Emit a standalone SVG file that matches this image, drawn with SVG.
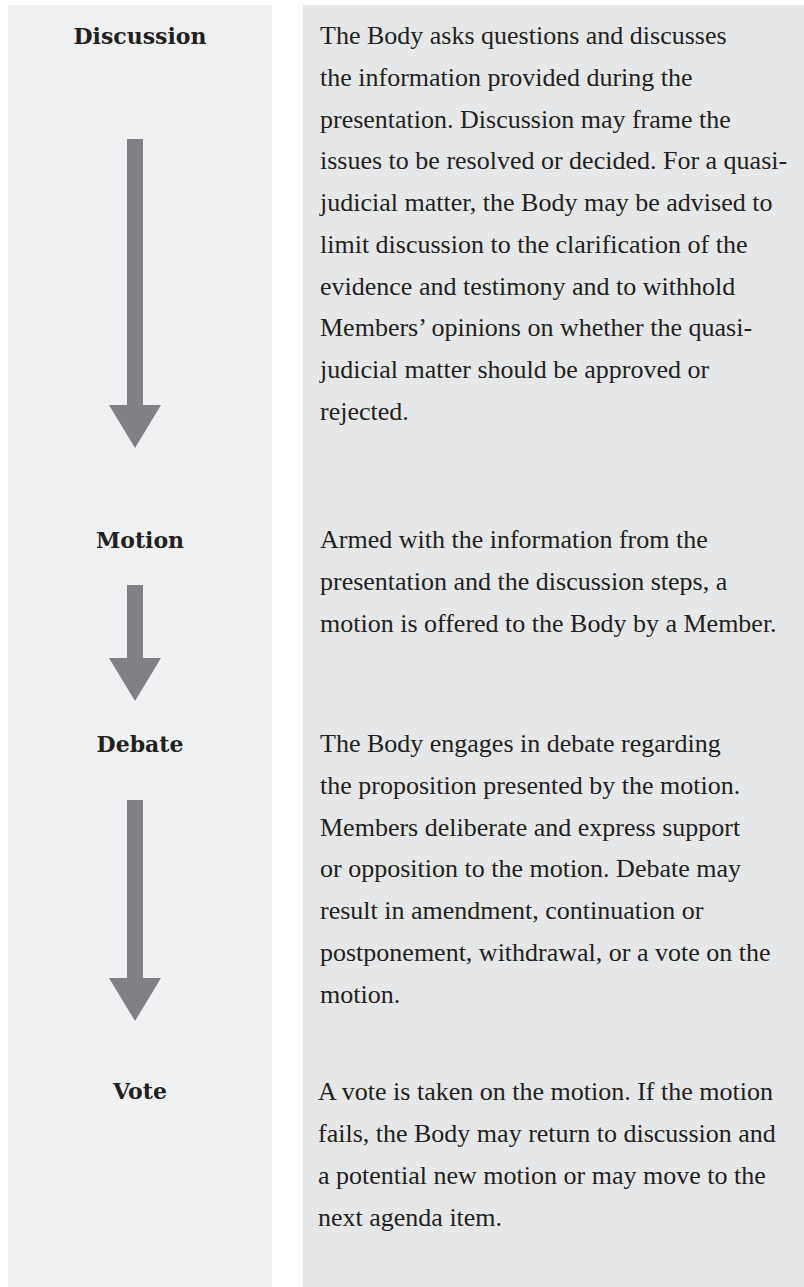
<svg xmlns="http://www.w3.org/2000/svg" width="804" height="1287" viewBox="0 0 804 1287">
<style>
.lp{fill:#f0f1f3}
.rp{fill:#e6e7e8}
.lbl{font-family:"DejaVu Serif","Liberation Serif",serif;font-weight:bold;font-size:22px;fill:#231f20;text-anchor:middle}
.body{font-family:"Liberation Serif","Times New Roman",serif;font-size:26px;fill:#231f20}
.arr{fill:#808184}
</style>
<rect width="804" height="1287" fill="#ffffff"/>
<g id="panels">
<rect class="lp" x="8" y="5" width="264" height="1282"/>
<rect class="rp" x="303" y="5" width="501" height="1282"/>
</g>
<g id="node-discussion">
<text class="lbl" x="140" y="44">Discussion</text>
<text class="body" x="320">
<tspan x="320" y="44">The Body asks questions and discusses</tspan>
<tspan x="320" y="85.8">the information provided during the</tspan>
<tspan x="320" y="127.5">presentation. Discussion may frame the</tspan>
<tspan x="320" y="169.3">issues to be resolved or decided. For a quasi-</tspan>
<tspan x="320" y="211">judicial matter, the Body may be advised to</tspan>
<tspan x="320" y="252.8">limit discussion to the clarification of the</tspan>
<tspan x="320" y="294.5">evidence and testimony and to withhold</tspan>
<tspan x="320" y="336.3">Members’ opinions on whether the quasi-</tspan>
<tspan x="320" y="378">judicial matter should be approved or</tspan>
<tspan x="320" y="419.8">rejected.</tspan>
</text>
</g>
<g id="node-motion">
<text class="lbl" x="140" y="548">Motion</text>
<text class="body">
<tspan x="320" y="548">Armed with the information from the</tspan>
<tspan x="320" y="590">presentation and the discussion steps, a</tspan>
<tspan x="320" y="632">motion is offered to the Body by a Member.</tspan>
</text>
</g>
<g id="node-debate">
<text class="lbl" x="140" y="752">Debate</text>
<text class="body">
<tspan x="320" y="752">The Body engages in debate regarding</tspan>
<tspan x="320" y="793.8">the proposition presented by the motion.</tspan>
<tspan x="320" y="835.5">Members deliberate and express support</tspan>
<tspan x="320" y="877.3">or opposition to the motion. Debate may</tspan>
<tspan x="320" y="919">result in amendment, continuation or</tspan>
<tspan x="320" y="960.8">postponement, withdrawal, or a vote on the</tspan>
<tspan x="320" y="1002.5">motion.</tspan>
</text>
</g>
<g id="node-vote">
<text class="lbl" x="140" y="1099">Vote</text>
<text class="body">
<tspan x="318" y="1100">A vote is taken on the motion. If the motion</tspan>
<tspan x="318" y="1142">fails, the Body may return to discussion and</tspan>
<tspan x="318" y="1184">a potential new motion or may move to the</tspan>
<tspan x="318" y="1226">next agenda item.</tspan>
</text>
</g>
<g id="connectors">
<rect class="arr" x="127" y="139" width="16" height="267"/>
<polygon class="arr" points="109,405 161,405 135,448"/>
<rect class="arr" x="127" y="585" width="16" height="74"/>
<polygon class="arr" points="109,658 161,658 135,701"/>
<rect class="arr" x="127" y="800" width="16" height="179"/>
<polygon class="arr" points="109,978 161,978 135,1021"/>
</g>
</svg>
